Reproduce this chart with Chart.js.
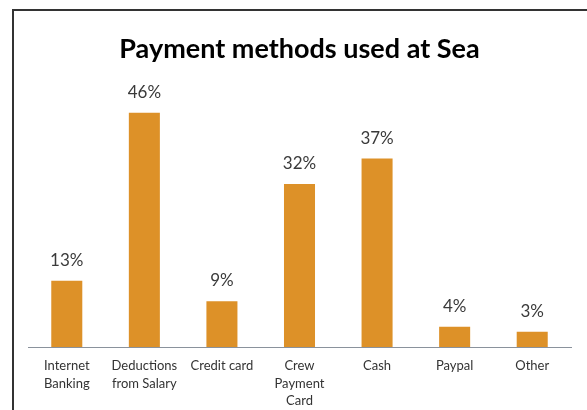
<!DOCTYPE html>
<html>
<head>
<meta charset="utf-8">
<script src="https://cdn.jsdelivr.net/npm/chart.js@4.4.1/dist/chart.umd.min.js"></script>
<style>
    html, body { margin: 0; padding: 0; background: #ffffff; }
    #wrap { position: relative; width: 587px; height: 410px; overflow: hidden; }
    #frame {
        position: absolute; left: 12px; top: 9px; width: 600px; height: 420px;
        border-left: 2px solid #333333; border-top: 2px solid #333333;
    }
    canvas { position: absolute; left: 0; top: 0; }
</style>
</head>
<body>
<div id="wrap">
    <div id="frame"></div>
    <canvas id="paymentChart" width="587" height="410"></canvas>
</div>
<script>
/*==================================================
DATA
==================================================*/

const methods = [
    ["Internet", "Banking"],
    ["Deductions", "from Salary"],
    "Credit card",
    ["Crew", "Payment", "Card"],
    "Cash",
    "Paypal",
    "Other"
];

const shares = [13, 46, 9, 32, 37, 4, 3];

/*==================================================
VALUE LABELS ABOVE BARS
==================================================*/

const valueLabels = {
    id: "valueLabels",
    afterDatasetsDraw(chart) {
        const ctx = chart.ctx;
        const meta = chart.getDatasetMeta(0);
        ctx.save();
        ctx.font = "17px Lato";
        ctx.fillStyle = "#3a3a3a";
        ctx.textAlign = "center";
        ctx.textBaseline = "alphabetic";
        meta.data.forEach((bar, i) => {
            ctx.fillText(shares[i] + "%", bar.x, bar.y - 15);
        });
        ctx.restore();
    }
};

/*==================================================
CHART
==================================================*/

new Chart(document.getElementById("paymentChart"), {
    type: "bar",
    data: {
        labels: methods,
        datasets: [{
            data: shares,
            backgroundColor: "#dd9128",
            barPercentage: 0.4,
            categoryPercentage: 1.0
        }]
    },
    options: {
        responsive: false,
        animation: false,
        layout: {
            padding: { left: 28, right: 16, top: 0, bottom: 0 }
        },
        plugins: {
            legend: { display: false },
            tooltip: { enabled: false },
            title: {
                display: true,
                text: "Payment methods used at Sea",
                color: "#000000",
                font: { family: "Lato", size: 27, weight: "bold", lineHeight: 1.2 },
                padding: { top: 33, bottom: 27 }
            }
        },
        scales: {
            x: {
                grid: { display: false },
                border: { display: true, color: "#8a929c", width: 1 },
                ticks: {
                    color: "#333333",
                    font: { family: "Lato", size: 13, lineHeight: 1.35 },
                    padding: 2,
                    maxRotation: 0,
                    autoSkip: false
                },
                afterFit(scale) {
                    scale.height = 63;
                }
            },
            y: {
                display: false,
                min: 0,
                max: 50
            }
        }
    },
    plugins: [valueLabels]
});
</script>
</body>
</html>
